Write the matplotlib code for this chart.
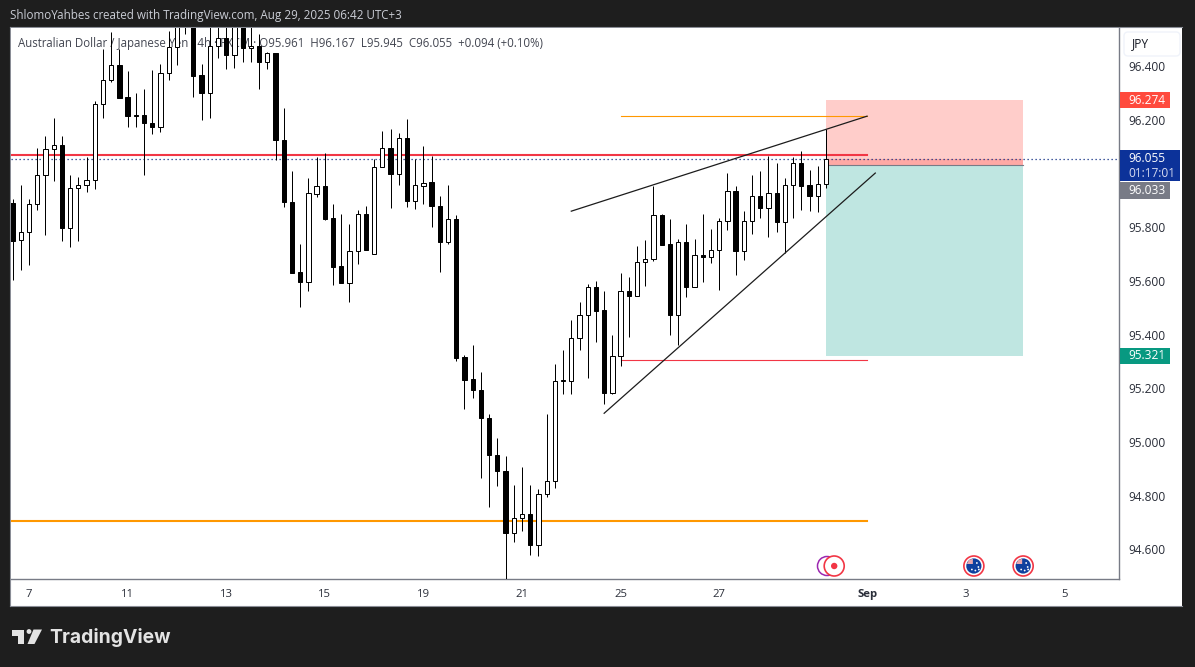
import matplotlib
matplotlib.use("Agg")
import matplotlib.pyplot as plt
from matplotlib.patches import Rectangle, Circle, Polygon, FancyBboxPatch

W, H = 1195, 667
opens = [95.892,95.751,95.784,95.885,95.993,96.090,96.105,95.798,95.948,95.959,
         95.978,96.258,96.347,96.403,96.284,96.220,96.220,96.190,96.174,96.373,
         96.470,96.600,96.620,96.367,96.301,96.474,96.504,96.442,96.600,96.469,
         96.476,96.416,96.451,96.126,95.896,95.633,95.596,95.924,95.952,95.834,
         95.654,95.593,95.713,95.851,95.702,96.023,96.097,96.000,96.131,95.898,
         95.954,95.967,95.881,95.745,95.829,95.316,95.234,95.195,95.091,94.953,
         94.893,94.661,94.718,94.733,94.616,94.808,94.856,95.227,95.229,95.389,
         95.475,95.579,95.490,95.183,95.322,95.561,95.544,95.671,95.680,95.844,
         95.736,95.475,95.747,95.576,95.695,95.691,95.717,95.825,95.937,95.712,
         95.825,95.915,95.872,95.926,95.818,95.956,96.038,95.956,95.917,95.961]
highs = [95.905,95.957,95.905,96.097,96.139,96.206,96.139,95.994,95.989,96.060,
         96.269,96.466,96.526,96.466,96.382,96.302,96.317,96.385,96.410,96.533,
         96.620,96.700,96.700,96.408,96.600,96.600,96.600,96.620,96.650,96.580,
         96.520,96.454,96.451,96.243,96.009,95.737,95.982,96.060,96.075,95.885,
         95.848,95.814,95.866,95.881,96.054,96.157,96.168,96.153,96.202,96.056,
         96.101,96.064,95.918,95.959,95.844,95.323,95.360,95.259,95.106,95.014,
         94.949,94.839,94.905,94.838,94.823,95.106,95.289,95.342,95.456,95.520,
         95.587,95.599,95.564,95.398,95.631,95.616,95.729,95.754,95.954,95.851,
         95.829,95.758,95.814,95.758,95.848,95.792,95.836,96.004,95.952,95.859,
         95.993,96.008,96.064,96.038,95.982,96.060,96.086,96.012,96.030,96.167]
lows = [95.604,95.641,95.660,95.865,95.772,95.973,95.749,95.727,95.749,95.932,
        95.943,96.208,96.343,96.282,96.174,96.174,95.995,96.148,96.155,96.349,
        96.405,96.520,96.286,96.200,96.208,96.431,96.390,96.394,96.416,96.416,
        96.316,96.390,96.051,95.876,95.630,95.503,95.563,95.913,95.826,95.585,
        95.593,95.522,95.663,95.716,95.702,96.023,95.872,95.958,95.876,95.868,
        95.887,95.801,95.634,95.738,95.302,95.123,95.164,94.866,94.758,94.836,
        94.480,94.627,94.668,94.579,94.575,94.795,94.829,95.179,95.179,95.343,
        95.239,95.373,95.142,95.179,95.282,95.391,95.544,95.581,95.675,95.734,
        95.399,95.362,95.540,95.576,95.596,95.667,95.567,95.790,95.622,95.678,
        95.775,95.835,95.764,95.783,95.706,95.835,95.865,95.861,95.857,95.945]
closes = [95.749,95.784,95.885,95.993,96.090,96.105,95.798,95.948,95.959,95.978,
          96.258,96.347,96.403,96.282,96.215,96.215,96.189,96.174,96.373,96.470,
          96.600,96.650,96.364,96.301,96.474,96.504,96.442,96.580,96.469,96.476,
          96.416,96.451,96.126,95.895,95.630,95.596,95.926,95.952,95.830,95.652,
          95.593,95.713,95.851,95.716,96.023,96.097,96.000,96.131,95.898,95.956,
          95.965,95.880,95.745,95.829,95.313,95.231,95.194,95.090,94.952,94.892,
          94.661,94.718,94.733,94.616,94.808,94.856,95.229,95.230,95.389,95.475,
          95.579,95.488,95.183,95.322,95.561,95.544,95.672,95.680,95.844,95.734,
          95.473,95.747,95.576,95.695,95.691,95.717,95.825,95.937,95.712,95.825,
          95.915,95.872,95.926,95.818,95.956,96.038,95.954,95.917,95.963,96.055]

price_ticks = [96.4, 96.2, 95.8, 95.6, 95.4, 95.2, 95.0, 94.8, 94.6]
price_tick_labels = ["96.400", "96.200", "95.800", "95.600", "95.400", "95.200", "95.000", "94.800", "94.600"]
date_ticks = [2, 14, 26, 38, 50, 62, 74, 86, 104, 116, 128]
date_labels = ["7", "11", "13", "15", "19", "21", "25", "27", "Sep", "3", "5"]

red_level = 96.070
orange_level = 94.705
last_price = 96.055
entry_price = 96.033
stop_price = 96.274
target_price = 95.321
thin_orange_level = 96.216
thin_red_level = 95.307
trend_upper_x = [68, 104]
trend_upper_y = [95.860, 96.214]
trend_lower_x = [72, 105]
trend_lower_y = [95.107, 96.002]
box_x = [99, 123]
event_x = [99, 100, 117, 123]

FONT = "Open Sans"
plt.rcParams["font.family"] = FONT

fig = plt.figure(figsize=(W / 100, H / 100), dpi=100, facecolor="#1e1e1e")

def frac(x0, y0, x1, y1):
    return [x0 / W, 1 - y1 / H, (x1 - x0) / W, (y1 - y0) / H]

panel = fig.add_axes(frac(10, 27, 1182, 606), facecolor="white", zorder=0)
panel.set_xticks([]); panel.set_yticks([])
for s in panel.spines.values():
    s.set_color("#8a8d96"); s.set_linewidth(0.8)
panel.spines["right"].set_visible(False)

ax = fig.add_axes(frac(11, 28, 1119, 579), facecolor="white", zorder=1)
ax.set_xlim((11 - 12.6) / 8.216, (1119 - 12.6) / 8.216)
ax.set_ylim(94.4895, 96.5425)

for s in ["left", "top"]:
    ax.spines[s].set_visible(False)
for s in ["right", "bottom"]:
    ax.spines[s].set_color("#787b86"); ax.spines[s].set_linewidth(1.0)

ax.yaxis.tick_right()
ax.set_yticks(price_ticks, price_tick_labels)
ax.set_xticks(date_ticks, date_labels)
ax.tick_params(axis="y", length=0, pad=7, labelsize=8.6, labelcolor="#2a2e39")
ax.tick_params(axis="x", length=0, pad=7.3, labelsize=8.2, labelcolor="#2a2e39")
for lab in ax.get_xticklabels():
    if lab.get_text() == "Sep":
        lab.set_fontweight("bold")

# legend text sits under the candles
ax.text(7 / 1108, (579 - 43) / 551,
        "Australian Dollar / Japanese Yen · 4h · FXCM · O95.961  H96.167  L95.945  C96.055  +0.094 (+0.10%)",
        transform=ax.transAxes, fontsize=8.32, color="#434651", va="center", ha="left", zorder=0.5)

# position tool
ax.fill_between(box_x, entry_price, stop_price, color="#ffcdca", lw=0, zorder=1)
ax.fill_between(box_x, entry_price, last_price, color="#ffa9a5", lw=0, zorder=1.1)
ax.fill_between(box_x, target_price, entry_price, color="#bfe6e1", lw=0, zorder=1)
ax.plot(box_x, [entry_price] * 2, color="#787b86", lw=0.8, zorder=1.2)

# levels
ax.plot([-1, 104], [red_level] * 2, color="#f23645", lw=1.5, zorder=2)
ax.plot([-1, 104], [orange_level] * 2, color="#ff9800", lw=1.5, zorder=2)
ax.plot([74, 104], [thin_orange_level] * 2, color="#ff9800", lw=0.8, zorder=2)
ax.plot([74, 104], [thin_red_level] * 2, color="#f23645", lw=0.8, zorder=2)
ax.axhline(last_price, color="#0a2a80", lw=0.9, ls=(0, (1, 2.2)), zorder=2)

# candles
xs = list(range(len(opens)))
ax.vlines(xs, lows, highs, color="black", lw=0.72, zorder=3)
bottoms = [min(o, c) for o, c in zip(opens, closes)]
heights = [abs(o - c) for o, c in zip(opens, closes)]
faces = ["white" if c >= o else "black" for o, c in zip(opens, closes)]
ax.bar(xs, heights, bottom=bottoms, width=0.52, color=faces, edgecolor="black",
       linewidth=0.72, zorder=4)

# trend lines
ax.plot(trend_upper_x, trend_upper_y, color="#1c1c1c", lw=0.9, zorder=5)
ax.plot(trend_lower_x, trend_lower_y, color="#1c1c1c", lw=0.9, zorder=5)

# overlay in pixel coordinates for the chrome
ov = fig.add_axes([0, 0, 1, 1], zorder=5, facecolor="none")
ov.set_xlim(0, W); ov.set_ylim(H, 0); ov.axis("off")

def py(price):
    return H - ax.transData.transform((0, price))[1]

def px(i):
    return ax.transData.transform((i, 0))[0]

def tag(price, text, color, x1=1170, half=8.5):
    y = py(price)
    ov.add_patch(Rectangle((1120, y - half), x1 - 1120, 2 * half, fc=color, ec="none"))
    ov.text(1128, y, text, color="white", fontsize=8.6, va="center", ha="left")

tag(stop_price, "96.274", "#ff4a3d", half=8)
tag(target_price, "95.321", "#089981", half=8)
ly = py(last_price)
ov.add_patch(Rectangle((1120, ly - 8.5), 60, 31, fc="#0c3299", ec="none"))
ov.text(1128, ly, "96.055", color="white", fontsize=8.6, va="center", ha="left")
ov.text(1128, ly + 14.5, "01:17:01", color="#d5daf0", fontsize=8.6, va="center", ha="left")
ov.add_patch(Rectangle((1120, 182), 50, 17, fc="#787b86", ec="none"))
ov.text(1128, 190.5, "96.033", color="white", fontsize=8.6, va="center", ha="left")

ov.add_patch(FancyBboxPatch((1124, 32), 56, 24, boxstyle="round,pad=0,rounding_size=4",
                            fc="white", ec="#f0f3fa", lw=1))
ov.text(1132, 44, "JPY", color="#131722", fontsize=8.6, va="center", ha="left")

# events
ey = 566
ov.add_patch(Circle((px(event_x[0]) + 1, ey), 9.5, fc="white", ec="#9c27b0", lw=1.1))
ov.add_patch(Circle((px(event_x[1]), ey), 10, fc="white", ec="#f23645", lw=1.2))
ov.add_patch(Circle((px(event_x[1]), ey), 3.2, fc="#f23645", ec="none"))
for i in event_x[2:]:
    cx = px(i)
    ov.add_patch(Circle((cx, ey), 10, fc="white", ec="#f23645", lw=1.2))
    ov.add_patch(Circle((cx, ey), 7.6, fc="#0f3f9e", ec="none"))
    ov.add_patch(Polygon([(cx - 7, ey - 2), (cx - 5, ey - 6), (cx - 1, ey - 7.2), (cx - 1, ey - 2)],
                         fc="#e9a6ae", ec="none"))
    for dx, dy in [(-2, 3.5), (3, -3), (4.5, 1), (1.5, 4.5), (5, 3.5)]:
        ov.add_patch(Circle((cx + dx, ey + dy), 0.9, fc="white", ec="none"))

# header
ov.text(10, 15.5, "ShlomoYahbes created with TradingView.com, Aug 29, 2025 06:42 UTC+3",
        color="#c9ccd4", fontsize=8.4, va="center", ha="left")

# TradingView logo
logo = "#e3e3e3"
ov.add_patch(Polygon([(12, 629.5), (24.5, 629.5), (24.5, 644), (18, 644), (18, 635.5), (12, 635.5)], fc=logo, ec="none"))
ov.add_patch(Circle((29, 631.5), 2.4, fc=logo, ec="none"))
ov.add_patch(Polygon([(33.5, 629.5), (42, 629.5), (34.5, 644), (27.5, 644)], fc=logo, ec="none"))
ov.text(49, 637.5, "TradingView", color=logo, fontsize=13.9, fontweight="bold",
        family="Inter", va="center", ha="left")

fig.savefig("out.png", dpi=100, facecolor=fig.get_facecolor())
